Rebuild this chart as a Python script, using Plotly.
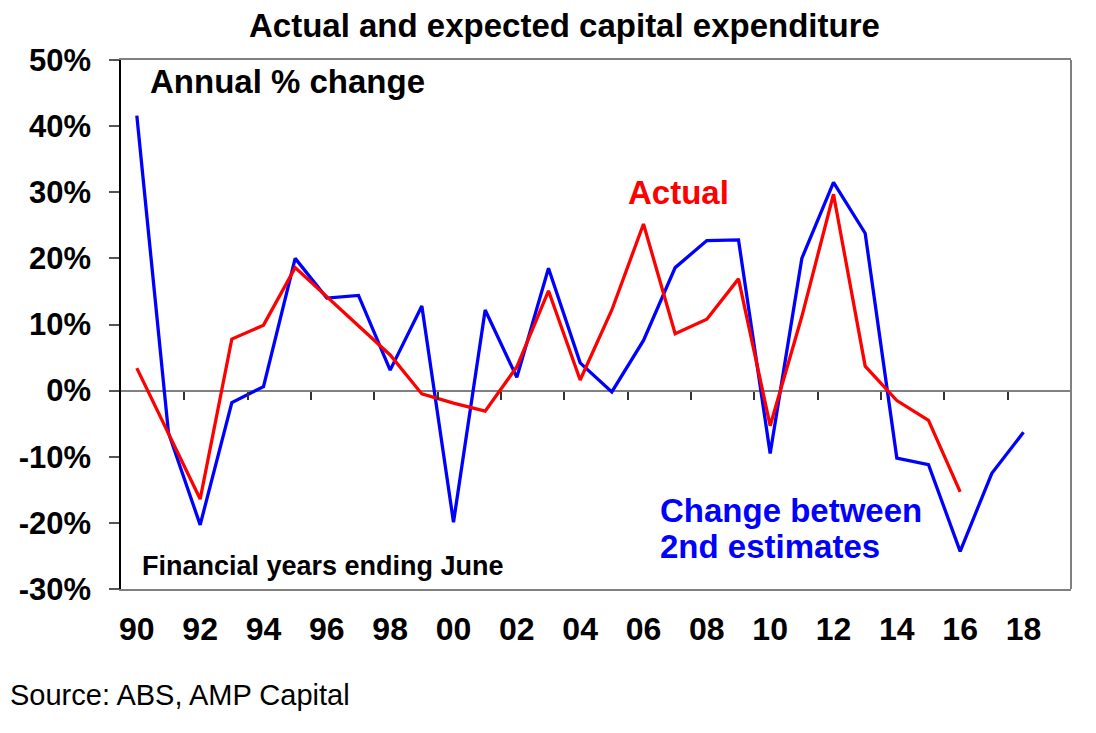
import plotly.graph_objects as go

# financial years ending June
years = list(range(1990, 2019))
expected = [41.6, -6.4, -20.3, -1.8, 0.6, 20.0, 14.0, 14.4, 3.1, 12.8,
            -19.9, 12.2, 2.0, 18.5, 4.2, -0.2, 7.6, 18.6, 22.7, 22.8,
            -9.5, 20.0, 31.5, 23.8, -10.2, -11.2, -24.3, -12.5, -6.3]
actual_years = list(range(1990, 2017))
actual = [3.4, -6.5, -16.4, 7.8, 9.9, 18.6, 14.2, 9.9, 5.4, -0.5,
          -1.9, -3.1, 3.6, 15.1, 1.6, 12.2, 25.2, 8.6, 10.8, 16.9,
          -5.3, 11.2, 29.7, 3.7, -1.5, -4.5, -15.3]

x_tick_years = list(range(1990, 2019, 2))
x_tick_text = ["%02d" % (y % 100) for y in x_tick_years]
y_ticks = [50, 40, 30, 20, 10, 0, -10, -20, -30]
y_tick_text = ["%d%%" % v for v in y_ticks]

font = "Liberation Sans, Arial, sans-serif"

fig = go.Figure()
fig.add_trace(go.Scatter(x=years, y=expected, mode="lines",
                         line=dict(color="#0000FF", width=3.3), name="Change between 2nd estimates"))
fig.add_trace(go.Scatter(x=actual_years, y=actual, mode="lines",
                         line=dict(color="#FF0000", width=3.3), name="Actual"))
# dummy trace so the zero-line ticks axis gets drawn
fig.add_trace(go.Scatter(x=[years[0]], y=[0], xaxis="x2", mode="markers",
                         marker=dict(opacity=0), showlegend=False, hoverinfo="skip"))

# page body has an 8px margin, so margins are shifted by 8
fig.update_layout(
    width=1096, height=733,
    margin=dict(l=113, r=33, t=52, b=152),
    paper_bgcolor="white", plot_bgcolor="white",
    showlegend=False,
    font=dict(family=font, color="black"),
    xaxis=dict(
        range=[1989.5, 2019.5],
        tickvals=x_tick_years, ticktext=x_tick_text,
        tickfont=dict(size=32, family=font, weight="bold"),
        ticks="outside", ticklen=11, tickcolor="rgba(0,0,0,0)",
        showgrid=False, zeroline=False,
        showline=True, mirror=True, linecolor="#808080", linewidth=2,
    ),
    xaxis2=dict(
        overlaying="x", matches="x", anchor="free", position=0.375,
        range=[1989.5, 2019.5],
        tickvals=[y + 1.5 for y in x_tick_years],
        ticks="outside", ticklen=8, tickwidth=1.5, tickcolor="#333333",
        showticklabels=False, showgrid=False, zeroline=False, showline=False,
    ),
    yaxis=dict(
        range=[-30, 50],
        tickvals=y_ticks, ticktext=y_tick_text,
        tickfont=dict(size=31, family=font, weight="bold"),
        ticks="outside", ticklen=10, tickcolor="#555555", tickwidth=1.5,
        ticklabelstandoff=12,
        showgrid=False,
        zeroline=True, zerolinecolor="#808080", zerolinewidth=2,
        showline=True, linecolor="black", linewidth=1.5,
    ),
    shapes=[dict(type="line", xref="paper", yref="paper", x0=1, x1=1, y0=0, y1=1,
                 line=dict(color="#808080", width=2))],
)

bold = dict(family=font, weight="bold")
fig.add_annotation(text="Actual and expected capital expenditure", xref="paper", yref="paper",
                   x=0.467, y=1.066, xanchor="center", yanchor="middle", showarrow=False,
                   font=dict(size=33, color="black", **bold))
fig.add_annotation(text="Annual % change", x=1990.34, y=46.7, xanchor="left", yanchor="middle",
                   showarrow=False, font=dict(size=33, color="black", **bold))
fig.add_annotation(text="Actual", x=2005.44, y=30.0, xanchor="left", yanchor="middle",
                   showarrow=False, font=dict(size=33, color="#FF0000", **bold))
fig.add_annotation(text="Change between", x=2006.45, y=-18.2, xanchor="left", yanchor="middle",
                   showarrow=False, font=dict(size=33, color="#0000FF", **bold))
fig.add_annotation(text="2nd estimates", x=2006.45, y=-23.6, xanchor="left", yanchor="middle",
                   showarrow=False, font=dict(size=33, color="#0000FF", **bold))
fig.add_annotation(text="Financial years ending June", x=1990.09, y=-26.5, xanchor="left",
                   yanchor="middle", showarrow=False, font=dict(size=27, color="black", **bold))
fig.add_annotation(text="Source: ABS, AMP Capital", xref="paper", yref="paper",
                   x=-0.119, y=-0.2, xanchor="left", yanchor="middle", showarrow=False,
                   font=dict(size=29, color="black", family=font))

fig.write_html("out.html")
